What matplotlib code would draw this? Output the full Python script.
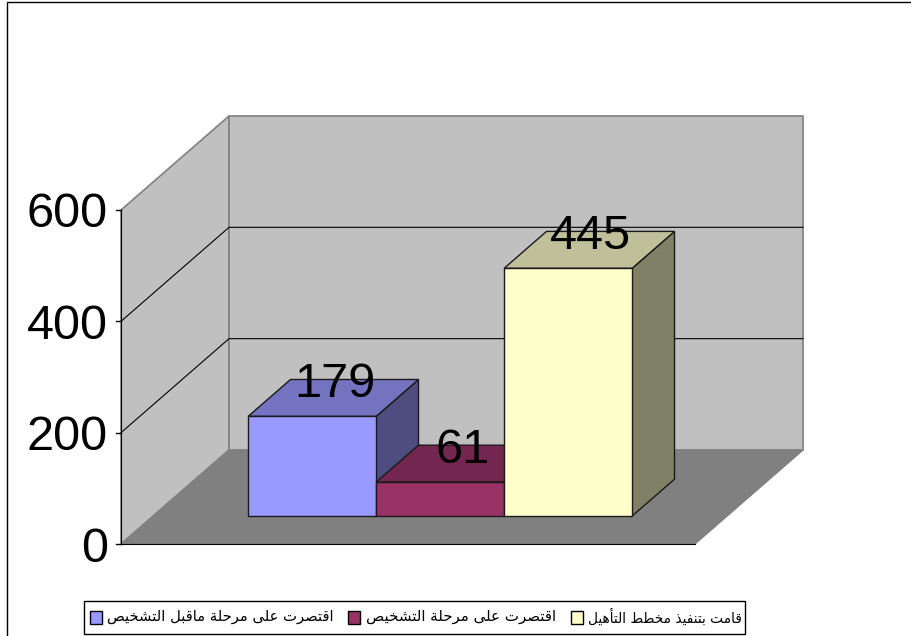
import matplotlib
matplotlib.use("Agg")
import matplotlib.pyplot as plt
from matplotlib.patches import Polygon, Rectangle

categories = ["اقتصرت على مرحلة ماقبل التشخيص", "اقتصرت على مرحلة التشخيص", "قامت بتنفيذ مخطط التأهيل"]
values = [179, 61, 445]
positions = [0, 1, 2]
y_ticks = [0, 200, 400, 600]
front_colors = ["#9999ff", "#993366", "#ffffcc"]
top_colors = ["#7373bf", "#732650", "#bfbf99"]
side_colors = ["#4d4d80", "#4d1a33", "#808066"]

NUM_FONT = "Liberation Sans"
NUM_SIZE = 35

# oblique projection, depth 0..1 goes from the front of the floor to the back wall
DX = 108 / 128
DY = 94 / 0.5567
FLOOR_L, FLOOR_R = -1.242, 3.242
Z_FRONT, Z_BACK = 0.298, 0.69


def pr(x, y, z=0.0):
    return (x + DX * z, y + DY * z)


# matplotlib has no arabic shaping, so pick the presentation forms by hand
DUAL = {"ب": 0xFE8F, "ت": 0xFE95, "ح": 0xFEA1, "خ": 0xFEA5, "ش": 0xFEB5, "ص": 0xFEB9,
        "ط": 0xFEC1, "ع": 0xFEC9, "ف": 0xFED1, "ق": 0xFED5, "ل": 0xFEDD, "م": 0xFEE1,
        "ن": 0xFEE5, "ه": 0xFEE9, "ي": 0xFEF1}
RIGHT = {"ا": 0xFE8D, "أ": 0xFE83, "ة": 0xFE93, "ذ": 0xFEAB, "ر": 0xFEAD, "ى": 0xFEEF}


def shape(text):
    out = []
    for i, c in enumerate(text):
        prev = text[i - 1] if i > 0 else " "
        nxt = text[i + 1] if i + 1 < len(text) else " "
        joined = prev in DUAL
        if c in DUAL:
            form = (2 if nxt in DUAL or nxt in RIGHT else 0)
            if joined:
                form = 3 if form == 2 else 1
            out.append(chr(DUAL[c] + form))
        elif c in RIGHT:
            out.append(chr(RIGHT[c] + (1 if joined else 0)))
        else:
            out.append(c)
    return "".join(reversed(out))


def face(ax, pts, color, edge="#1a1a1a", lw=1.0, z=2):
    ax.add_patch(Polygon(pts, closed=True, facecolor=color, edgecolor=edge, linewidth=lw,
                         joinstyle="miter", zorder=z))


fig = plt.figure(figsize=(9.12, 6.36), dpi=100, facecolor="white")

ax = fig.add_axes([0, 0, 1, 1])
ax.set_xlim(-280 / 128, (912 - 280) / 128)
ax.set_ylim(-92 / 0.5567, 544 / 0.5567)
ax.axis("off")

top = y_ticks[-1]

# walls and floor
face(ax, [pr(FLOOR_L, 0), pr(FLOOR_L, top), pr(FLOOR_L, top, 1), pr(FLOOR_L, 0, 1)], "#c0c0c0", "#808080", 1.2, 1)
face(ax, [pr(FLOOR_L, 0, 1), pr(FLOOR_L, top, 1), pr(FLOOR_R, top, 1), pr(FLOOR_R, 0, 1)], "#c0c0c0", "#808080", 1.2, 1)
face(ax, [pr(FLOOR_L, 0), pr(FLOOR_R, 0), pr(FLOOR_R, 0, 1), pr(FLOOR_L, 0, 1)], "#808080", "#808080", 1.0, 1)

for t in y_ticks:
    xa, ya = pr(FLOOR_L, t)
    xb, yb = pr(FLOOR_L, t, 1)
    xc, yc = pr(FLOOR_R, t, 1)
    if 0 < t < top:
        ax.plot([xa, xb, xc], [ya, yb, yc], color="black", lw=0.8, zorder=1.5)
    ax.plot([xa - 5 / 128, xa], [ya, ya], color="black", lw=1.0, zorder=3)
    ax.text(xa - 13 / 128, ya, str(t), ha="right", va="center_baseline", fontsize=NUM_SIZE,
            family=NUM_FONT, color="black", zorder=4)
ax.plot([pr(FLOOR_L, 0)[0]] * 2, [0, top], color="black", lw=0.8, zorder=1.6)
ax.plot([pr(FLOOR_L, 0)[0], pr(FLOOR_R, 0)[0]], [0, 0], color="black", lw=0.8, zorder=1.6)

# bars, back to front so the side faces overlap correctly
for i, (p, v) in enumerate(zip(positions, values)):
    l, r = p - 0.5, p + 0.5
    face(ax, [pr(r, 0, Z_FRONT), pr(r, v, Z_FRONT), pr(r, v, Z_BACK), pr(r, 0, Z_BACK)], side_colors[i], z=2 + i * 0.1)
    face(ax, [pr(l, v, Z_FRONT), pr(r, v, Z_FRONT), pr(r, v, Z_BACK), pr(l, v, Z_BACK)], top_colors[i], z=2 + i * 0.1)
    face(ax, [pr(l, 0, Z_FRONT), pr(r, 0, Z_FRONT), pr(r, v, Z_FRONT), pr(l, v, Z_FRONT)], front_colors[i], z=2.5 + i * 0.1)

for p, v in zip(positions, values):
    ax.annotate(str(v), xy=pr(p, v, (Z_FRONT + Z_BACK) / 2), xytext=(1, 13), textcoords="offset points",
                ha="center", va="center_baseline", fontsize=NUM_SIZE, family=NUM_FONT, color="black", zorder=6)

# frame and legend box, in image pixels
ov = fig.add_axes([0, 0, 1, 1], facecolor="none")
ov.set_xlim(0, 912)
ov.set_ylim(636, 0)
ov.axis("off")
ov.plot([7.5, 7.5, 912], [636, 1.5, 1.5], color="black", lw=1.0, clip_on=False)
ov.add_patch(Rectangle((84.5, 600.5), 661, 33, facecolor="white", edgecolor="black", lw=1.0))

swatch_x = [90.5, 348.5, 571.5]
text_right = [334, 556, 742]
text_size = [10.6, 10.8, 9.9]
for sx, tr, fs, name, c in zip(swatch_x, text_right, text_size, categories, front_colors):
    ov.add_patch(Rectangle((sx, 610.5), 12, 13, facecolor=c, edgecolor="black", lw=1.0))
    ov.text(tr, 617, shape(name), ha="right", va="center", fontsize=fs, family="DejaVu Sans", color="black")

fig.savefig("out.png", dpi=100, facecolor="white")
plt.close(fig)
